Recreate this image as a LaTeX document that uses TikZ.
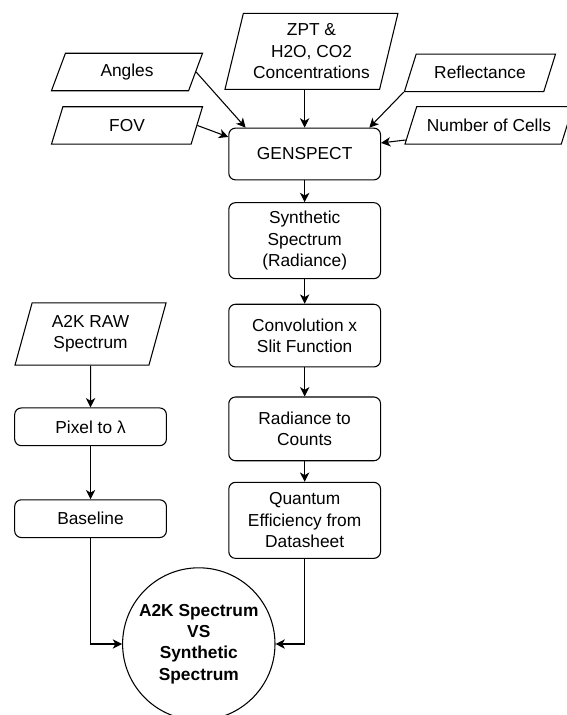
\documentclass[tikz,border=0pt]{standalone}
\usepackage{fontspec}
\setmainfont{Liberation Sans}
\usetikzlibrary{arrows.meta,positioning,shapes.geometric,calc}

\begin{document}
\begin{tikzpicture}[
  font=\fontsize{13pt}{16pt}\selectfont,
  line width=0.8pt,
  proc/.style={draw, rounded corners=5pt, align=center, inner sep=2pt,
               minimum width=113.8pt, minimum height=28.3pt},
  io/.style={draw, trapezium, trapezium left angle=57, trapezium right angle=123,
             trapezium stretches body=true, align=center, inner sep=2pt,
             minimum width=113.3pt, minimum height=28.1pt},
  >={Stealth[length=7pt,width=7pt,inset=2pt]}
]
\useasboundingbox (0,0) rectangle (425.25pt,-536.25pt);

% inputs
\node[io] (angles) at (95.25pt,-54pt) {Angles};
\node[io] (fov) at (95.25pt,-94.1pt) {FOV};
\node[io, trapezium left angle=73, trapezium right angle=107,
      minimum width=129.75pt, minimum height=57pt] (zpt) at (233.6pt,-38.5pt)
  {ZPT \&\\H2O, CO2\\Concentrations};
\node[io] (refl) at (360pt,-54.6pt) {Reflectance};
\node[io, minimum width=126pt] (cells) at (366.75pt,-94pt) {Number of Cells};

% synthetic chain
\node[proc, minimum height=38.8pt] (genspect) at (228.5pt,-115.5pt) {GENSPECT};
\node[proc, minimum height=57pt, below=16.3pt of genspect] (synth)
  {Synthetic\\Spectrum\\(Radiance)};
\node[proc, minimum height=47pt, below=18.4pt of synth] (conv)
  {Convolution x\\Slit Function};
\node[proc, minimum height=47.8pt, below=21.75pt of conv] (counts)
  {Radiance to\\Counts};
\node[proc, minimum height=57pt, below=15.4pt of counts] (qe)
  {Quantum\\Efficiency from\\Datasheet};

% measured chain
\node[io, trapezium left angle=68, trapezium right angle=112,
      minimum height=46.7pt] (raw) at (67.9pt,-250.5pt) {A2K RAW\\Spectrum};
\node[proc, below=31.3pt of raw] (pixel) {Pixel to λ};
\node[proc, below=39.8pt of pixel] (baseline) {Baseline};

\node[draw, circle, minimum size=114.3pt, inner sep=0pt, align=center,
      font=\fontsize{13pt}{16pt}\selectfont\bfseries] (compare) at (149.1pt,-483pt)
  {A2K Spectrum\\VS\\Synthetic\\Spectrum};

\draw[->] (angles.east) -- ([xshift=13pt]genspect.north west);
\draw[->] (fov.east) -- ([yshift=-7pt]genspect.north west);
\draw[->] (genspect.north |- zpt.south) -- (genspect.north);
\draw[->] (refl.bottom left corner) -- ([xshift=-8.8pt]genspect.north east);
\draw[->] ($(cells.bottom left corner)!0.12!(cells.top left corner)$)
  -- ([yshift=8.3pt]genspect.east);
\draw[->] (genspect) -- (synth);
\draw[->] (synth) -- (conv);
\draw[->] (conv) -- (counts);
\draw[->] (counts) -- (qe);
\draw[->] (raw) -- (pixel);
\draw[->] (pixel) -- (baseline);
\draw[->] (baseline) |- (compare);
\draw[->] (qe) |- (compare);
\end{tikzpicture}
\end{document}
